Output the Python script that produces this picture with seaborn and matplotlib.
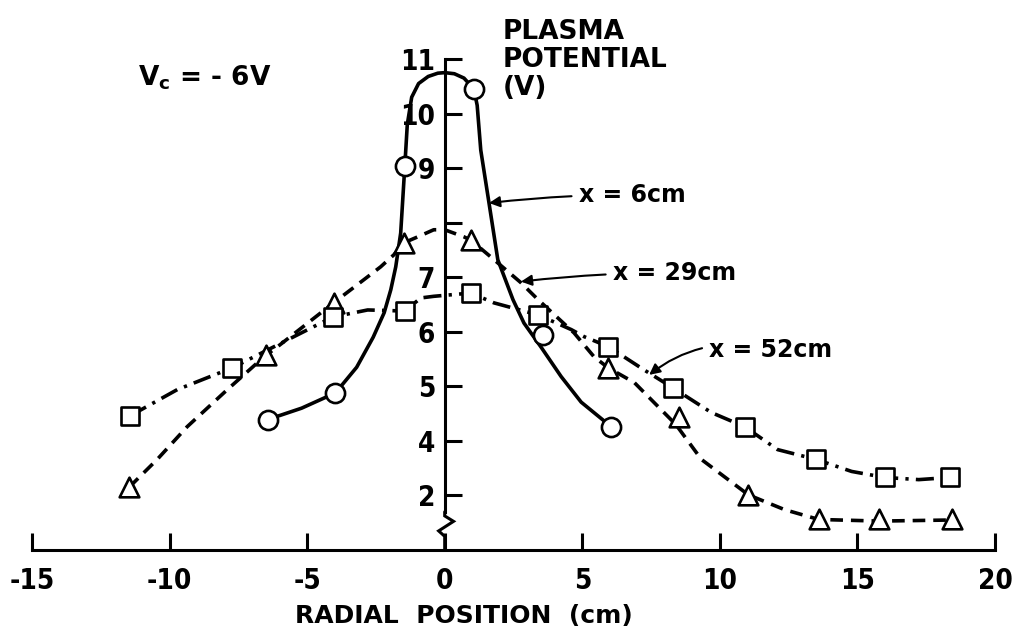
import numpy as np
import matplotlib
matplotlib.use("Agg")
import matplotlib.pyplot as plt
import seaborn as sns

# ---------------- data ----------------
# x = 6 cm  (circles, solid curve)
circ_x = [-6.44, -3.97, -1.45, 1.06, 3.57, 6.05]
circ_y = [4.39, 4.88, 9.04, 10.45, 5.95, 4.26]
curve6_x = [-6.44, -5.2, -3.97, -3.2, -2.6, -2.2, -1.96, -1.78, -1.6, -1.45, -1.36,
            -1.2, -0.95, -0.6, -0.25, 0.0, 0.35, 0.7, 1.06, 1.18, 1.31, 1.61, 1.93,
            2.48, 2.88, 3.5, 4.23, 4.96, 6.05]
curve6_y = [4.39, 4.6, 4.88, 5.35, 5.9, 6.35, 6.77, 7.19, 7.81, 9.04, 9.8,
            10.3, 10.55, 10.68, 10.74, 10.75, 10.73, 10.65, 10.45, 10.15, 9.33, 8.36, 7.32,
            6.59, 6.16, 5.72, 5.18, 4.71, 4.26]

# x = 29 cm (triangles, dashed curve)
tri_x = [-11.47, -6.48, -4.04, -1.49, 0.95, 5.94, 8.53, 11.04, 13.59, 15.8, 18.43]
tri_y = [2.3, 5.58, 6.53, 7.63, 7.68, 5.34, 4.44, 2.02, 1.12, 1.12, 1.12]
curve29_x = [-11.47, -10.45, -9.36, -7.9, -6.48, -6.22, -4.04, -2.95, -2.33, -1.85,
             -1.49, -0.98, -0.4, 0.0, 0.7, 0.95, 1.68, 2.77, 3.39, 4.7, 5.43, 5.94,
             6.89, 8.4, 9.33, 11.04, 12.35, 13.59, 15.8, 18.43]
curve29_y = [2.3, 3.32, 4.26, 4.94, 5.58, 5.67, 6.53, 6.95, 7.19, 7.41,
             7.63, 7.74, 7.87, 7.87, 7.74, 7.68, 7.37, 6.9, 6.59, 5.98, 5.54, 5.34,
             5.07, 4.3, 3.32, 2.02, 1.48, 1.12, 1.06, 1.1]

# x = 52 cm (squares, dash-dot curve)
sq_x = [-11.43, -7.72, -4.07, -1.45, 0.95, 3.39, 5.94, 8.3, 10.9, 13.5, 15.99, 18.36]
sq_y = [4.46, 5.34, 6.27, 6.38, 6.71, 6.31, 5.73, 4.97, 4.26, 3.32, 2.66, 2.66]
curve52_x = [-11.43, -9.72, -7.72, -4.07, -2.8, -1.45, -0.87, -0.4, 0.95, 1.79, 2.3,
             3.39, 4.6, 5.07, 5.94, 7.25, 8.3, 9.69, 10.9, 12.1, 13.5, 14.79, 15.99,
             17.23, 18.36]
curve52_y = [4.46, 4.94, 5.34, 6.27, 6.4, 6.38, 6.62, 6.65, 6.71, 6.53, 6.46,
             6.31, 6.04, 5.91, 5.73, 5.3, 4.97, 4.52, 4.26, 3.68, 3.32, 2.88, 2.66,
             2.58, 2.66]

xticks = [-15, -10, -5, 0, 5, 10, 15, 20]
xtick_labels = ["-15", "-10", "-5", "0", "5", "10", "15", "20"]
yticks = [2, 4, 5, 6, 7, 8, 9, 10, 11]
ytick_labels = ["2", "4", "5", "6", "7", "", "9", "10", "11"]

# ---------------- style ----------------
sns.set_style("white")
plt.rcParams["font.family"] = ["DejaVu Sans"]
plt.rcParams["font.weight"] = "bold"
plt.rcParams["axes.linewidth"] = 2.2
for k in ["text.color", "axes.labelcolor", "xtick.color", "ytick.color",
          "axes.edgecolor"]:
    plt.rcParams[k] = "black"

fig = plt.figure(figsize=(10.16, 6.3), dpi=100)
ax = fig.add_axes([32 / 1016, 1 - 550 / 630, 963 / 1016, 491 / 630])


# broken axis: values below 4 are compressed (2 sits where 3 would be)
def fwd(y):
    y = np.asarray(y, dtype=float)
    return np.where(y >= 4, y, 2 + y / 2)


def inv(p):
    p = np.asarray(p, dtype=float)
    return np.where(p >= 4, p, 2 * (p - 2))


ax.set_yscale("function", functions=(fwd, inv))

LW = 2.6
sns.lineplot(x=curve6_x, y=curve6_y, sort=False, estimator=None, color="black",
             linewidth=LW, ax=ax)
sns.lineplot(x=curve29_x, y=curve29_y, sort=False, estimator=None, color="black",
             linewidth=LW, linestyle=(0, (3.5, 2.2)), ax=ax)
sns.lineplot(x=curve52_x, y=curve52_y, sort=False, estimator=None, color="black",
             linewidth=LW, linestyle=(0, (5.0, 2.0, 0.9, 2.0)), ax=ax)

mk = dict(facecolor="white", edgecolor="black", linewidth=1.9, zorder=4, ax=ax,
          legend=False)
sns.scatterplot(x=circ_x, y=circ_y, marker="o", s=190, **mk)
sns.scatterplot(x=tri_x, y=tri_y, marker="^", s=200, **mk)
sns.scatterplot(x=sq_x, y=sq_y, marker="s", s=170, **mk)

ax.set_xlim(-15, 20)
ax.set_ylim(0, 11)

for s in ["top", "right"]:
    ax.spines[s].set_visible(False)
ax.spines["left"].set_position(("data", 0))
ax.spines["left"].set_bounds(1.4, 11)

# axis break zig-zag on the y axis
ax.plot([0, 0, 0.32, -0.22, 0, 0], [1.4, 1.25, 1.05, 0.7, 0.5, 0], color="black",
        linewidth=2.2, solid_joinstyle="miter", clip_on=False, zorder=3)

ax.set_xticks(xticks)
ax.set_xticklabels(xtick_labels)
ax.set_yticks(yticks)
ax.set_yticklabels(ytick_labels)
ax.minorticks_off()
ax.tick_params(axis="x", bottom=True, direction="in", length=12, width=2.2,
               labelsize=20, pad=12)
ax.tick_params(axis="y", left=True, direction="in", length=12, width=2.2,
               labelsize=20, pad=7)
for lab in ax.get_xticklabels() + ax.get_yticklabels():
    lab.set_fontstretch("condensed")

ax.set_xlabel("RADIAL  POSITION  (cm)", fontsize=18, fontweight="bold")
ax.xaxis.set_label_coords((464 - 32) / 963, -0.11)

fig.text(138 / 1016, 1 - 78 / 630, r"V$_\mathbf{c}$ = - 6V", fontsize=19,
         ha="left", va="center")
fig.text(503 / 1016, 1 - 60 / 630, "PLASMA\nPOTENTIAL\n(V)", fontsize=19,
         ha="left", va="center", linespacing=1.12)

arrow = dict(arrowstyle="-|>", color="black", lw=1.5, mutation_scale=16,
             shrinkA=3, shrinkB=0)
ax.annotate("x = 6cm", xy=(1.61, 8.36), xytext=(4.88, 8.51), fontsize=17,
            ha="left", va="center",
            arrowprops=dict(arrow, connectionstyle="arc3,rad=0.03"))
ax.annotate("x = 29cm", xy=(2.77, 6.92), xytext=(6.12, 7.08), fontsize=17,
            ha="left", va="center",
            arrowprops=dict(arrow, connectionstyle="arc3,rad=0.03"))
ax.annotate("x = 52cm", xy=(7.43, 5.21), xytext=(9.62, 5.67), fontsize=17,
            ha="left", va="center",
            arrowprops=dict(arrow, connectionstyle="arc3,rad=0.25"))

fig.savefig("out.png", dpi=100)
